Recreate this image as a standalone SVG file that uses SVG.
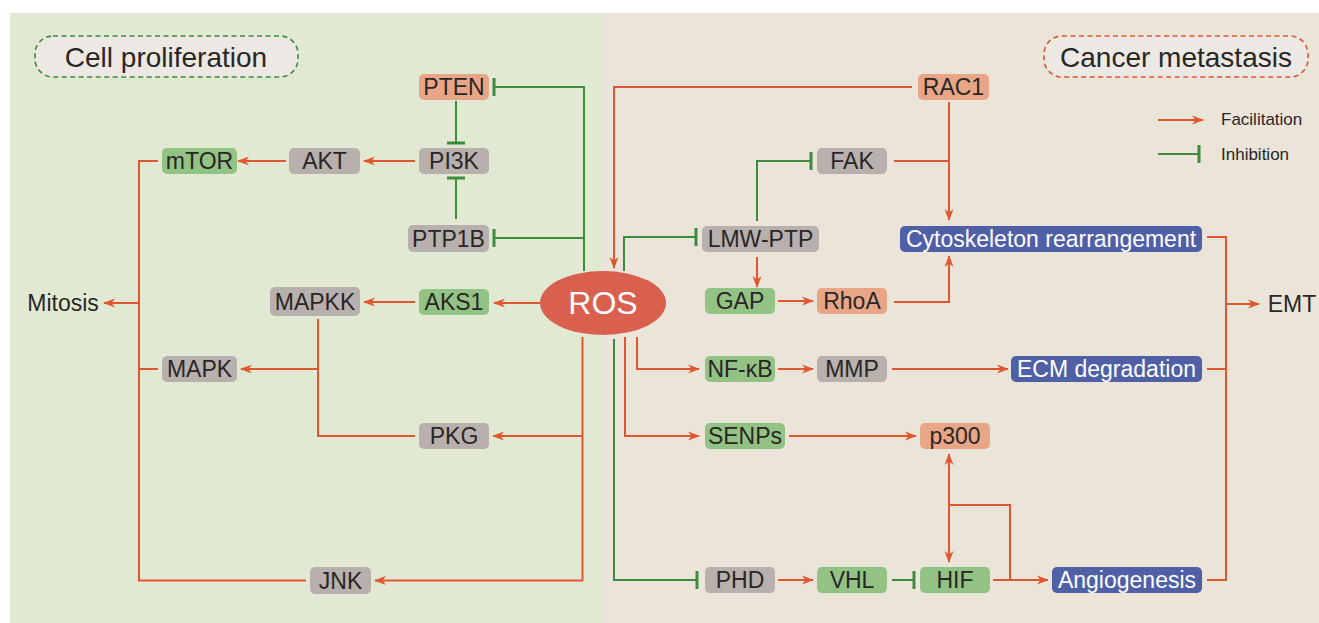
<svg xmlns="http://www.w3.org/2000/svg" width="1319" height="623" viewBox="0 0 1319 623">
<style>
.t{font-family:"Liberation Sans",Arial,sans-serif;font-size:23px;fill:#2a2626;text-anchor:middle;dominant-baseline:central}
.w{fill:#ffffff}
.g{fill:#b7b0ad}
.s{fill:#e9a687}
.n{fill:#93c285}
.b{fill:#5060a7}
.r{fill:none;stroke:#e0572f;stroke-width:2}
.ra{fill:none;stroke:#e0572f;stroke-width:2;marker-end:url(#arr)}
.gi{fill:none;stroke:#3e8a3e;stroke-width:2;marker-end:url(#bar)}
.gl{fill:none;stroke:#3e8a3e;stroke-width:2}
</style>
<defs>
<marker id="arr" markerUnits="userSpaceOnUse" markerWidth="12" markerHeight="10" viewBox="0 0 12 10" refX="11" refY="5" orient="auto-start-reverse">
<path d="M0,0.5 L12,5 L0,9.5 L3.5,5 Z" fill="#e0572f"/>
</marker>
<marker id="bar" markerUnits="userSpaceOnUse" markerWidth="6" markerHeight="22" viewBox="-3 -11 6 22" refX="0" refY="0" orient="auto">
<rect x="-1.5" y="-9" width="3" height="18" fill="#3e8a3e"/>
</marker>
</defs>
<rect x="10" y="13" width="593" height="610" fill="#e2e9d3"/>
<rect x="603" y="13" width="716" height="610" fill="#ebe4d9"/>

<g id="connectors">
<path class="gi" d="M584,271 V87 H494"/>
<path class="gi" d="M584,238 H494"/>
<path class="gi" d="M456,101 V143"/>
<path class="gi" d="M456,219 V178"/>
<path class="ra" d="M415,161 H364"/>
<path class="ra" d="M286,161 H238"/>
<path class="ra" d="M541,303 H494"/>
<path class="ra" d="M415,302 H364"/>
<path class="r" d="M318,319 V436 H415"/>
<path class="ra" d="M318,369 H241"/>
<path class="r" d="M582.5,337 V580.5"/>
<path class="ra" d="M583,436 H493"/>
<path class="ra" d="M583,580.5 H375"/>
<path class="r" d="M306,580.5 H139 V161 H158"/>
<path class="r" d="M139,369 H158"/>
<path class="ra" d="M139,303 H104"/>
<path class="ra" d="M912,87 H614 V268"/>
<path class="gi" d="M624,271 V237 H696"/>
<path class="gi" d="M757,221 V161 H811"/>
<path class="r" d="M894,161 H949"/>
<path class="ra" d="M949,102 V220"/>
<path class="ra" d="M757,257 V287"/>
<path class="ra" d="M778,301 H813"/>
<path class="ra" d="M894,302 H949 V256"/>
<path class="ra" d="M637,337 V369 H699"/>
<path class="ra" d="M778,369 H813"/>
<path class="ra" d="M892,369 H1008"/>
<path class="ra" d="M625,337 V436 H699"/>
<path class="ra" d="M789,436 H916"/>
<path class="gi" d="M614,339 V580 H697"/>
<path class="ra" d="M778,580 H813"/>
<path class="gi" d="M892,580 H914"/>
<path class="ra" d="M993,580 H1048"/>
<path class="ra" style="marker-start:url(#arr)" d="M949,454 V562"/>
<path class="r" d="M949,505 H1010 V580"/>
<path class="r" d="M1207,237 H1226 V580 H1207"/>
<path class="r" d="M1207,369 H1226"/>
<path class="ra" d="M1226,304 H1259"/>
<path class="ra" d="M1158,120 H1203"/>
<path class="gi" d="M1158,154 H1199"/>
</g>

<g id="cell-proliferation">
<rect x="35" y="36" width="263" height="41" rx="18" fill="#ece9e4" stroke="#3e8a3e" stroke-width="1.6" stroke-dasharray="5,3.5"/>
<text class="t" x="166" y="57" style="font-size:28px">Cell proliferation</text>
</g>
<g id="cancer-metastasis">
<rect x="1044" y="36" width="264" height="41" rx="18" fill="#ece9e4" stroke="#e0572f" stroke-width="1.6" stroke-dasharray="5,3.5"/>
<text class="t" x="1176" y="57" style="font-size:28px">Cancer metastasis</text>
</g>
<g id="legend">
<text class="t" x="1221" y="119" style="font-size:17px;text-anchor:start">Facilitation</text>
<text class="t" x="1221" y="154" style="font-size:17px;text-anchor:start">Inhibition</text>
</g>

<g id="ROS"><ellipse cx="603" cy="303" rx="63" ry="32" fill="#d95f4e"/><text class="t w" x="603" y="303" style="font-size:32px">ROS</text></g>
<g id="Mitosis"><text class="t" x="63" y="303">Mitosis</text></g>
<g id="EMT"><text class="t" x="1292" y="304">EMT</text></g>

<g id="PTEN"><rect class="s" x="419" y="74" width="70" height="26" rx="5"/><text class="t" x="454" y="87">PTEN</text></g>
<g id="PI3K"><rect class="g" x="419" y="148" width="70" height="26" rx="5"/><text class="t" x="454" y="161">PI3K</text></g>
<g id="AKT"><rect class="g" x="289" y="148" width="71" height="26" rx="5"/><text class="t" x="324.5" y="161">AKT</text></g>
<g id="mTOR"><rect class="n" x="162" y="148" width="75" height="26" rx="5"/><text class="t" x="199.5" y="161">mTOR</text></g>
<g id="PTP1B"><rect class="g" x="408" y="225" width="81" height="27" rx="5"/><text class="t" x="448.5" y="238.5">PTP1B</text></g>
<g id="AKS1"><rect class="n" x="419" y="289" width="70" height="26" rx="5"/><text class="t" x="454" y="302">AKS1</text></g>
<g id="MAPKK"><rect class="g" x="270" y="287" width="90" height="29" rx="5"/><text class="t" x="315" y="301.5">MAPKK</text></g>
<g id="MAPK"><rect class="g" x="162" y="356" width="75" height="26" rx="5"/><text class="t" x="199.5" y="369">MAPK</text></g>
<g id="PKG"><rect class="g" x="419" y="423" width="70" height="26" rx="5"/><text class="t" x="454" y="436">PKG</text></g>
<g id="JNK"><rect class="g" x="310" y="567" width="61" height="27" rx="5"/><text class="t" x="340.5" y="580.5">JNK</text></g>

<g id="RAC1"><rect class="s" x="918" y="74" width="71" height="26" rx="5"/><text class="t" x="953.5" y="87">RAC1</text></g>
<g id="FAK"><rect class="g" x="817" y="148" width="70" height="26" rx="5"/><text class="t" x="852" y="161">FAK</text></g>
<g id="LMW-PTP"><rect class="g" x="702" y="226" width="117" height="26" rx="5"/><text class="t" x="760.5" y="239">LMW-PTP</text></g>
<g id="Cytoskeleton"><rect class="b" x="900" y="226" width="302" height="26" rx="5"/><text class="t w" x="1051" y="239">Cytoskeleton rearrangement</text></g>
<g id="GAP"><rect class="n" x="705" y="288" width="70" height="26" rx="5"/><text class="t" x="740" y="301">GAP</text></g>
<g id="RhoA"><rect class="s" x="817" y="288" width="70" height="26" rx="5"/><text class="t" x="852" y="301">RhoA</text></g>
<g id="NF-kB"><rect class="n" x="705" y="356" width="70" height="26" rx="5"/><text class="t" x="740" y="369">NF-κB</text></g>
<g id="MMP"><rect class="g" x="817" y="356" width="70" height="26" rx="5"/><text class="t" x="852" y="369">MMP</text></g>
<g id="ECM"><rect class="b" x="1011" y="356" width="191" height="26" rx="5"/><text class="t w" x="1106.5" y="369">ECM degradation</text></g>
<g id="SENPs"><rect class="n" x="705" y="423" width="80" height="26" rx="5"/><text class="t" x="745" y="436">SENPs</text></g>
<g id="p300"><rect class="s" x="920" y="423" width="70" height="26" rx="5"/><text class="t" x="955" y="436">p300</text></g>
<g id="PHD"><rect class="g" x="705" y="567" width="70" height="26" rx="5"/><text class="t" x="740" y="580">PHD</text></g>
<g id="VHL"><rect class="n" x="817" y="567" width="70" height="26" rx="5"/><text class="t" x="852" y="580">VHL</text></g>
<g id="HIF"><rect class="n" x="920" y="567" width="70" height="26" rx="5"/><text class="t" x="955" y="580">HIF</text></g>
<g id="Angiogenesis"><rect class="b" x="1052" y="567" width="150" height="26" rx="5"/><text class="t w" x="1127" y="580">Angiogenesis</text></g>
</svg>
